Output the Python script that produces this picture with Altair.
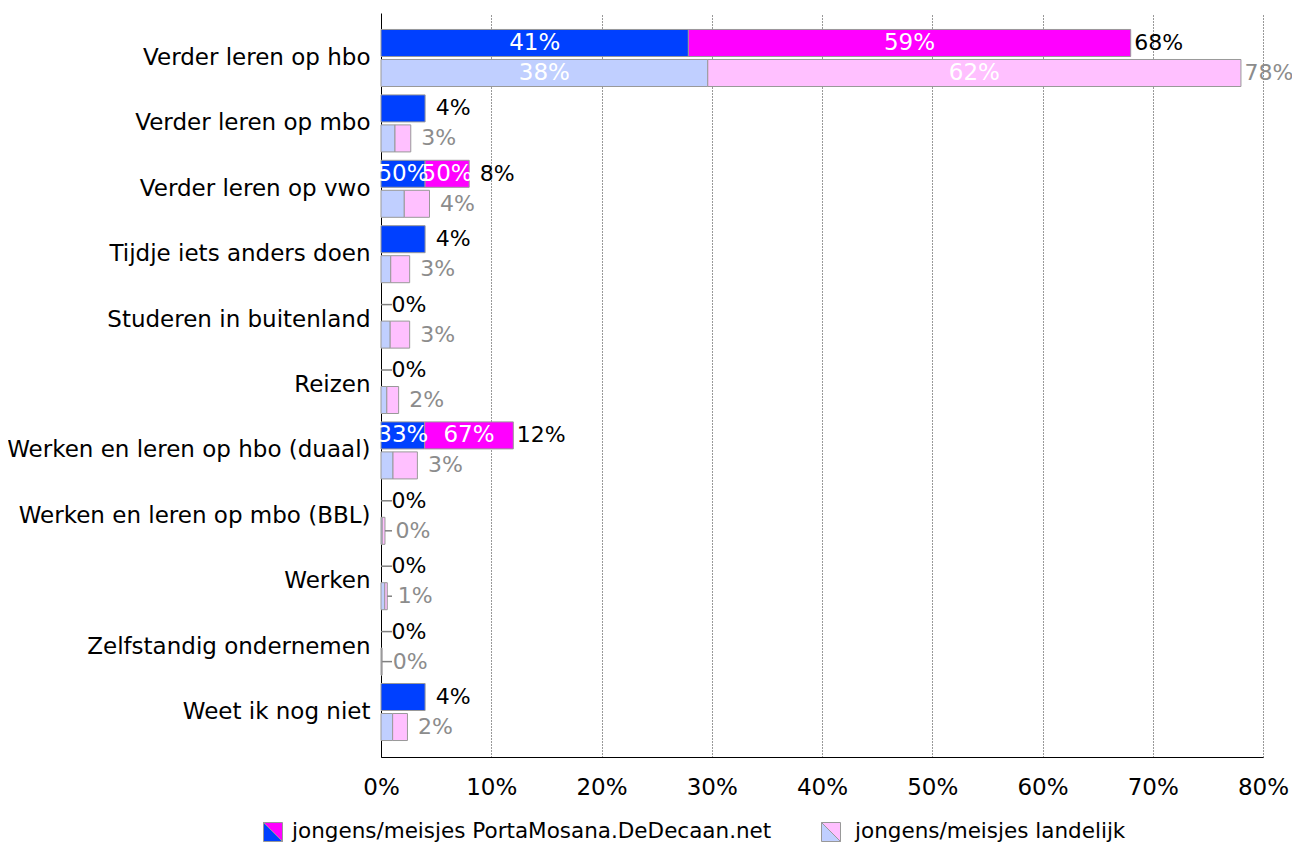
import altair as alt
import pandas as pd

categories = [
    "Verder leren op hbo",
    "Verder leren op mbo",
    "Verder leren op vwo",
    "Tijdje iets anders doen",
    "Studeren in buitenland",
    "Reizen",
    "Werken en leren op hbo (duaal)",
    "Werken en leren op mbo (BBL)",
    "Werken",
    "Zelfstandig ondernemen",
    "Weet ik nog niet",
]
school_total = [68, 4, 8, 4, 0, 0, 12, 0, 0, 0, 4]
school_boys_share = [41, 100, 50, 100, 0, 0, 33, 0, 0, 0, 100]
national_total = [78, 2.7, 4.4, 2.6, 2.6, 1.6, 3.3, 0.36, 0.57, 0.1, 2.4]
national_boys_share = [38, 47, 48, 34, 32, 33, 33, 30, 60, 50, 44]
legend_labels = ["jongens/meisjes PortaMosana.DeDecaan.net", "jongens/meisjes landelijk"]
x_ticks = [0, 10, 20, 30, 40, 50, 60, 70, 80]

FONT = "DejaVu Sans"
FS = 23
LEADER_END = 1.0

seg_rows, tot_rows, lead_rows = [], [], []
for series, totals, shares in [("school", school_total, school_boys_share),
                               ("national", national_total, national_boys_share)]:
    for cat, tot, sh in zip(categories, totals, shares):
        boys = tot * sh / 100.0
        for gender, start, end, share in [("boys", 0.0, boys, sh), ("girls", boys, tot, 100 - sh)]:
            if end - start <= 0:
                continue
            show = (end - start) >= 3.5 and 0 < share < 100
            seg_rows.append(dict(cat=cat, series=series, key=f"{series}_{gender}",
                                 start=start, end=end, mid=(start + end) / 2,
                                 label=f"{share}%" if show else ""))
        tot_rows.append(dict(cat=cat, series=series, total=tot,
                             label=f"{int(round(tot))}%"))
        if tot < 1:
            lead_rows.append(dict(cat=cat, series=series, total=tot, end=LEADER_END))

seg = pd.DataFrame(seg_rows)
tots = pd.DataFrame(tot_rows)
leads = pd.DataFrame(lead_rows)

xscale = alt.Scale(domain=[0, 80], nice=False)
y_enc = alt.Y("cat:N", sort=categories, title=None,
              scale=alt.Scale(paddingInner=0.128, paddingOuter=0.252),
              axis=alt.Axis(labelFont=FONT, labelFontSize=FS, labelColor="black",
                            labelPadding=11, ticks=False, domainColor="black",
                            labelLimit=400))
yoff_enc = alt.YOffset("series:N", sort=["school", "national"],
                       scale=alt.Scale(paddingInner=0.1, paddingOuter=0))

color_scale = alt.Scale(domain=["school_boys", "school_girls", "national_boys", "national_girls"],
                        range=["#0040FF", "#FF00FF", "#C0CFFF", "#FFC0FF"])

bars = alt.Chart(seg).mark_bar(stroke="#999999", strokeWidth=1).encode(
    y=y_enc, yOffset=yoff_enc,
    x=alt.X("start:Q", scale=xscale, title=None,
            axis=alt.Axis(values=x_ticks, labelExpr="datum.value + '%'",
                          labelFont=FONT, labelFontSize=FS, labelColor="black",
                          labelPadding=19, labelFlush=False, ticks=False,
                          domainColor="black",
                          grid=True, gridColor="#333333", gridDash=[1, 2],
                          gridWidth=1)),
    x2="end:Q",
    color=alt.Color("key:N", scale=color_scale, legend=None),
)

inner = alt.Chart(seg).mark_text(font=FONT, fontSize=FS, color="white",
                                 align="center", baseline="middle").encode(
    y=y_enc, yOffset=yoff_enc, x=alt.X("mid:Q", scale=xscale), text="label:N")

totals_text = alt.Chart(tots).mark_text(font=FONT, fontSize=22, align="center",
                                        baseline="middle", dx=28).encode(
    y=y_enc, yOffset=yoff_enc, x=alt.X("total:Q", scale=xscale), text="label:N",
    color=alt.Color("series:N", scale=alt.Scale(domain=["school", "national"],
                                               range=["black", "#8c8c8c"]), legend=None))

leaders = alt.Chart(leads).mark_rule(color="#808080", strokeWidth=1.5).encode(
    y=y_enc, yOffset=yoff_enc, x=alt.X("total:Q", scale=xscale), x2="end:Q")

H = 744
LY = H + 75
tri_bl = "M-1,-1L1,1L-1,1Z"
tri_tr = "M-1,-1L1,-1L1,1Z"
leg_df = pd.DataFrame({"t": [0]})

def legend_item(xc, c1, c2, text, tx):
    a = alt.Chart(leg_df).mark_point(shape=tri_bl, filled=True, fill=c1, size=361,
                                     stroke="#999999", strokeWidth=1, opacity=1).encode(
        x=alt.value(xc), y=alt.value(LY))
    b = alt.Chart(leg_df).mark_point(shape=tri_tr, filled=True, fill=c2, size=361,
                                     stroke="#999999", strokeWidth=1, opacity=1).encode(
        x=alt.value(xc), y=alt.value(LY))
    t = alt.Chart(leg_df).mark_text(font=FONT, fontSize=21.5, align="left",
                                    baseline="middle", color="black", text=text).encode(
        x=alt.value(tx), y=alt.value(LY))
    return [a, b, t]

legend_layers = (legend_item(-108, "#0040FF", "#FF00FF", legend_labels[0], -89)
                 + legend_item(450, "#C0CFFF", "#FFC0FF", legend_labels[1], 474))

chart = alt.layer(bars, inner, totals_text, leaders, *legend_layers).properties(
    width=882, height=H,
    padding={"left": 373, "top": 5, "right": 29, "bottom": 87},
    autosize=alt.AutoSizeParams(type="none"),
).resolve_scale(color="independent").configure_view(stroke=None)

chart.save("out.html", embed_options={"renderer": "svg", "actions": False})
